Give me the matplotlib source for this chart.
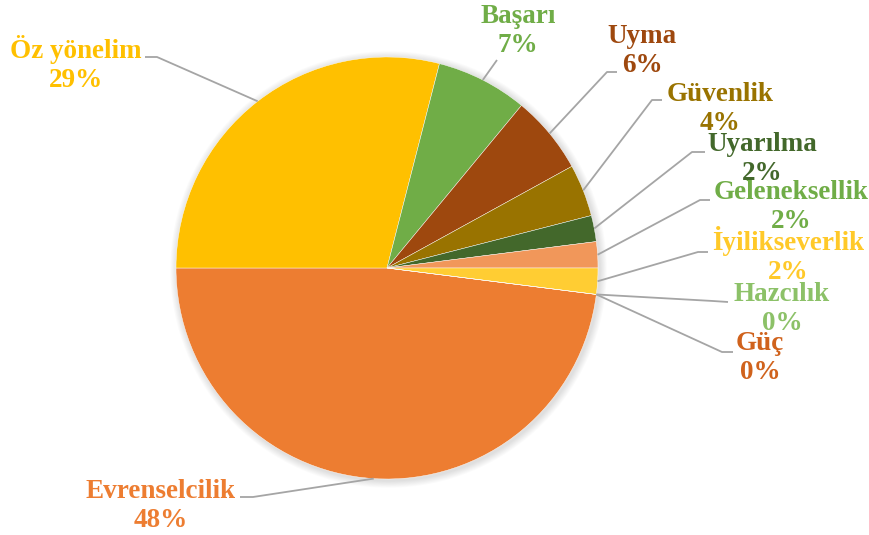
import numpy as np
import matplotlib.pyplot as plt
from matplotlib.patches import Circle

W, H = 870, 535

# data, in the order the slices are drawn (clockwise)
names = ["Evrenselcilik", "Öz yönelim", "Başarı", "Uyma", "Güvenlik", "Uyarılma",
         "Geleneksellik", "İyilikseverlik", "Hazcılık", "Güç"]
values = [48, 29, 7, 6, 4, 2, 2, 2, 0, 0]
slice_colors = ["#ED7D31", "#FFC000", "#70AD47", "#9E480E", "#997300", "#43682B",
                "#F1975A", "#FFCD33", "#8CC168", "#D26012"]
label_colors = ["#ED7D31", "#FFC000", "#70AD47", "#9E480E", "#997300", "#43682B",
                "#70AD47", "#FFC929", "#8CC168", "#D0621C"]

# label layout in pixels (x, y from top): centre x and baseline of the percent line,
# then leader line points near the text
label_pos = [(161, 527), (76, 87), (518, 52), (642, 72), (720, 130), (762, 180),
             (791, 228), (788, 279), (782, 330), (760, 379)]
leader_pts = [[(253, 497), (240, 497)], [(157, 57), (145, 57)], [(497, 60)],
              [(607, 72), (617, 72)], [(652, 100), (662, 100)], [(692, 152), (705, 152)],
              [(700, 200), (710, 200)], [(698, 252), (708, 252)], [(713, 301), (728, 302)],
              [(722, 352), (733, 352)]]

cx, cy, r = 387, 268, 211
start = -7.2


def px(p):
    return p[0], H - p[1]


fig = plt.figure(figsize=(W / 100, H / 100), dpi=100)
ax = fig.add_axes([0, 0, 1, 1])

# soft shadow behind the pie
for k in range(8):
    ax.add_patch(Circle((cx + 1.5, H - cy - 1.5), r + 1 + k * 0.9, color="#000000",
                        alpha=0.015, lw=0, zorder=0))

wedges, _ = ax.pie(values, colors=slice_colors, startangle=start, counterclock=False,
                   radius=r, center=(cx, H - cy),
                   wedgeprops=dict(edgecolor="white", linewidth=0.3))
for w in wedges:
    w.set_zorder(2)

ax.set_xlim(0, W)
ax.set_ylim(0, H)
ax.set_aspect("equal")
ax.axis("off")

total = sum(values)
for i, w in enumerate(wedges):
    mid = np.deg2rad((w.theta1 + w.theta2) / 2)
    edge = (cx + r * np.cos(mid), H - cy + r * np.sin(mid))
    pts = [edge] + [px(p) for p in leader_pts[i]]
    xs, ys = zip(*pts)
    ax.plot(xs, ys, color="#A5A5A5", lw=1.3, zorder=3, solid_capstyle="butt")
    pct = round(values[i] / total * 100)
    tx, ty = px(label_pos[i])
    ax.text(tx, ty, f"{names[i]}\n{pct}%", ha="center", va="baseline",
            family="Liberation Serif", fontweight="bold", fontsize=19.5,
            color=label_colors[i], linespacing=1.19, zorder=4)

fig.savefig("out.png", dpi=100)
